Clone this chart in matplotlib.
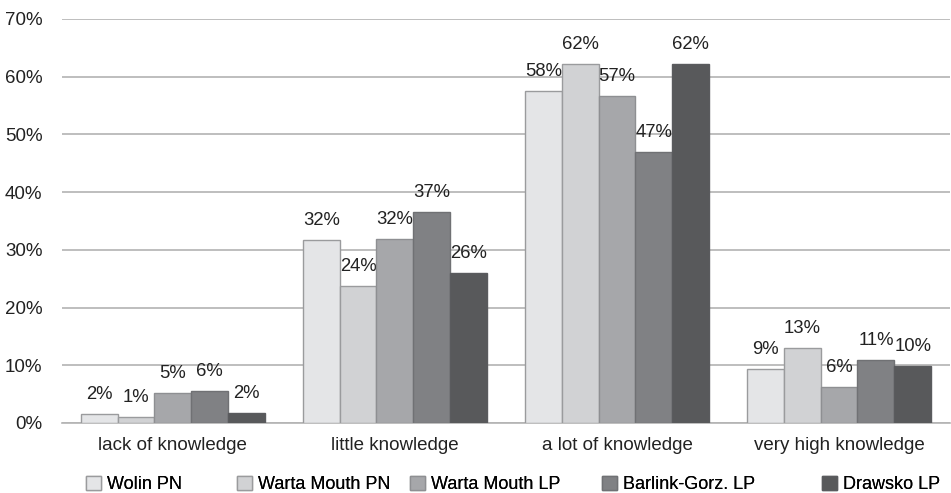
import numpy as np
import matplotlib
matplotlib.use("Agg")
import matplotlib.pyplot as plt
from matplotlib.patches import Patch

plt.rcParams["font.family"] = ["Liberation Sans", "DejaVu Sans"]

categories = ["lack of knowledge", "little knowledge", "a lot of knowledge", "very high knowledge"]
series = ["Wolin PN", "Warta Mouth PN", "Warta Mouth LP", "Barlink-Gorz. LP", "Drawsko LP"]
wolin = [1.6, 31.7, 57.5, 9.3]
warta_pn = [1.0, 23.7, 62.2, 13.0]
warta_lp = [5.2, 31.8, 56.7, 6.2]
barlink = [5.5, 36.6, 47.0, 10.9]
drawsko = [1.7, 26.0, 62.2, 9.9]
values = [wolin, warta_pn, warta_lp, barlink, drawsko]

colors = ["#e4e5e7", "#d1d2d4", "#a6a7aa", "#808184", "#58595b"]
edges = ["#9a9b9d", "#9a9b9d", "#8e8f92", "#707174", "#5a5b5e"]

fig = plt.figure(figsize=(9.51, 4.93), dpi=100)
ax = fig.add_axes([0.065, 0.142, 0.934, 0.8195])

x = np.arange(len(categories))
w = 0.166
for i, (name, vals) in enumerate(zip(series, values)):
    pos = x + (i - 2) * w
    bars = ax.bar(pos, vals, width=w, color=colors[i], edgecolor=edges[i],
                  linewidth=1, label=name, zorder=3)
    for b, v in zip(bars, vals):
        ax.annotate(f"{round(v):.0f}%", (b.get_x() + b.get_width() / 2, v),
                    xytext=(0, 8), textcoords="offset points",
                    ha="center", va="bottom", fontsize=13.3, color="#222222")

ax.set_xlim(-0.5, 3.5)
ax.set_ylim(0, 70)
ax.set_yticks(range(0, 71, 10))
ax.set_yticklabels([f"{t}%" for t in range(0, 71, 10)])
ax.set_xticks(x)
ax.set_xticklabels(categories)
ax.tick_params(axis="both", length=0, labelsize=13.5, colors="#222222")
ax.tick_params(axis="x", pad=10)
ax.tick_params(axis="y", pad=14)
ax.grid(axis="y", color="#b3b3b3", linewidth=1.2, zorder=0)
for s in ["left", "right", "top"]:
    ax.spines[s].set_visible(False)
ax.spines["bottom"].set_color("#b3b3b3")
ax.spines["bottom"].set_linewidth(1.2)

# legend entries placed as in the original (uneven spacing)
leg_x = [86, 237, 410, 602, 822]
for i, name in enumerate(series):
    h = Patch(facecolor=colors[i], edgecolor=edges[i], label=name)
    lg = fig.legend(handles=[h], loc="lower left",
                    bbox_to_anchor=((leg_x[i] - 4) / 951 - 0.009, -0.026),
                    frameon=False, fontsize=13, handlelength=0.8, handleheight=0.8,
                    handletextpad=0.35, borderpad=0.2)
    fig.add_artist(lg)

fig.savefig("out.png", dpi=100)
